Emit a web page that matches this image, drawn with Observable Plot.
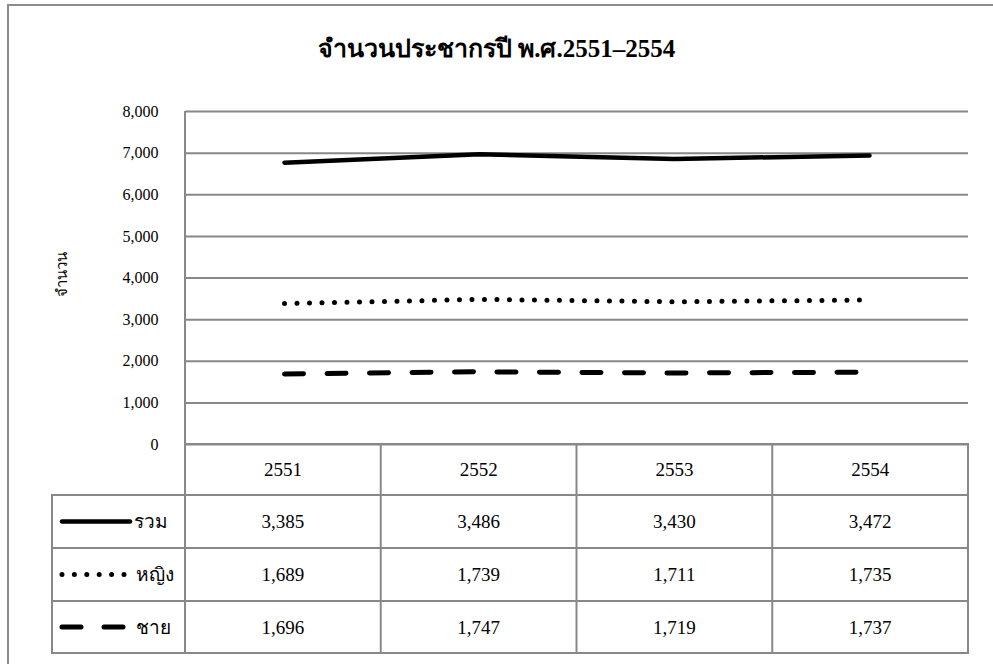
<!DOCTYPE html>
<html>
<head>
<meta charset="utf-8">
<script src="https://cdn.jsdelivr.net/npm/d3@7"></script>
<script src="https://cdn.jsdelivr.net/npm/@observablehq/plot@0.6"></script>
<style>
  body { margin: 0; background: #fff; }
  #root { position: relative; width: 993px; height: 664px; overflow: hidden; background: #fff; font-family: "Liberation Serif", "DejaVu Serif", serif; }
  #frame { position: absolute; left: 7px; top: 4px; width: 1100px; height: 800px; border: 2px solid #8c8c8c; box-sizing: border-box; }
  #title { position: absolute; left: 0; top: 28px; width: 993px; text-align: center; font-size: 25px; font-weight: bold; color: #000; }
  #chart { position: absolute; left: 0; top: 95px; }
  #chart svg text { font-family: "Liberation Serif", serif !important; }
  #chart svg g[aria-label="y-axis tick label"] text { font-size: 16px !important; }
  #table { position: absolute; left: 0; top: 0; }
</style>
</head>
<body>
<div id="root">
  <div id="frame"></div>
  <div id="title">จำนวนประชากรปี พ.ศ.2551–2554</div>
  <div id="chart"></div>
  <div id="table"></div>
</div>
<script>
// ---- data ----
const years = ["2551", "2552", "2553", "2554"];
const seriesNames = ["รวม", "หญิง", "ชาย"];
const totalValues = [3385, 3486, 3430, 3472];
const femaleValues = [1689, 1739, 1711, 1735];
const maleValues = [1696, 1747, 1719, 1737];
const yTicks = [0, 1000, 2000, 3000, 4000, 5000, 6000, 7000, 8000];
const yLabel = "จำนวน";

const valuesBySeries = {"รวม": totalValues, "หญิง": femaleValues, "ชาย": maleValues};
const styleBySeries = {
  "รวม": {strokeWidth: 4.5, strokeDasharray: null},
  "หญิง": {strokeWidth: 5, strokeDasharray: "0 12.5"},
  "ชาย": {strokeWidth: 5, strokeDasharray: "19 23.5"}
};

// wide table, stacked like the original (ชาย bottom, หญิง, then รวม)
const wide = years.map((y, i) => ({year: y, "รวม": totalValues[i], "หญิง": femaleValues[i], "ชาย": maleValues[i]}));
const stackOrder = ["ชาย", "หญิง", "รวม"];
const stacked = d3.stack().keys(stackOrder)(wide);
const lineData = {};
stacked.forEach(s => {
  lineData[s.key] = s.map((p, i) => ({year: years[i], top: p[1], series: s.key}));
});

const W = 993, H = 364, mL = 185, mR = 25, mT = 16, mB = 15;
const gridColor = "#888";

const leftLine = (index, scales, values, dims) => {
  const g = d3.create("svg:line")
    .attr("x1", dims.marginLeft).attr("x2", dims.marginLeft)
    .attr("y1", dims.marginTop).attr("y2", dims.height - dims.marginBottom)
    .attr("stroke", gridColor).attr("stroke-width", 2);
  return g.node();
};

const chart = Plot.plot({
  width: W, height: H,
  marginLeft: mL, marginRight: mR, marginTop: mT, marginBottom: mB,
  style: {fontFamily: '"Liberation Serif", serif', fontSize: "16px", color: "#000", background: "transparent"},
  x: {type: "point", domain: years, padding: 0.5, axis: null},
  y: {domain: [0, 8000], ticks: yTicks},
  marks: [
    Plot.gridY(yTicks, {stroke: gridColor, strokeOpacity: 1, strokeWidth: 2}),
    leftLine,
    Plot.axisY(yTicks, {tickSize: 0, tickPadding: 27, tickFormat: d3.format(","), fontSize: 16, label: null}),
    Plot.text([yLabel], {frameAnchor: "left", textAnchor: "middle", dx: -123, dy: -4, rotate: -90, fontSize: 15, fill: "#000"}),
    ...stackOrder.map(k => Plot.line(lineData[k], {
      x: "year", y: "top", stroke: "#000",
      strokeWidth: styleBySeries[k].strokeWidth,
      strokeDasharray: styleBySeries[k].strokeDasharray,
      strokeLinecap: "round", strokeLinejoin: "round"
    }))
  ]
});
document.getElementById("chart").appendChild(chart);

// ---- data table under the chart ----
const xs = chart.scale("x");
const x0 = xs.range[0], x1 = xs.range[1];
const step = (x1 - x0) / years.length;
const colEdges = [52, ...years.map((_, i) => x0 + i * step), x1];
const rowEdges = [444, 495, 548, 601, 653];

const tsvg = d3.create("svg").attr("width", 993).attr("height", 664)
  .style("font-family", '"Liberation Serif", serif').style("font-size", "19px");
const ln = (a, b, c, d) => tsvg.append("line").attr("x1", a).attr("y1", b).attr("x2", c).attr("y2", d)
  .attr("stroke", gridColor).attr("stroke-width", 2).attr("stroke-linecap", "square");
ln(colEdges[1], rowEdges[0], colEdges[colEdges.length - 1], rowEdges[0]);
for (let r = 1; r < rowEdges.length; r++) ln(colEdges[0], rowEdges[r], colEdges[colEdges.length - 1], rowEdges[r]);
ln(colEdges[0], rowEdges[1], colEdges[0], rowEdges[rowEdges.length - 1]);
for (let c = 1; c < colEdges.length; c++) ln(colEdges[c], rowEdges[0], colEdges[c], rowEdges[rowEdges.length - 1]);

const fmt = d3.format(",");
years.forEach((y, i) => {
  tsvg.append("text").attr("x", (colEdges[i + 1] + colEdges[i + 2]) / 2).attr("y", (rowEdges[0] + rowEdges[1]) / 2)
    .attr("text-anchor", "middle").attr("dominant-baseline", "central").attr("fill", "#000").text(y);
});
seriesNames.forEach((k, r) => {
  const cy = (rowEdges[r + 1] + rowEdges[r + 2]) / 2;
  const st = styleBySeries[k];
  const sym = tsvg.append("line").attr("x1", 62).attr("x2", k === "รวม" ? 130 : 126)
    .attr("y1", cy).attr("y2", cy).attr("stroke", "#000")
    .attr("stroke-width", st.strokeWidth).attr("stroke-linecap", "round");
  if (k === "หญิง") sym.attr("stroke-dasharray", "0 12.4");
  if (k === "ชาย") sym.attr("stroke-dasharray", "19 23");
  tsvg.append("text").attr("x", k === "รวม" ? 134 : 136).attr("y", cy)
    .attr("dominant-baseline", "central").attr("fill", "#000").text(k);
  valuesBySeries[k].forEach((v, i) => {
    tsvg.append("text").attr("x", (colEdges[i + 1] + colEdges[i + 2]) / 2).attr("y", cy)
      .attr("text-anchor", "middle").attr("dominant-baseline", "central").attr("fill", "#000").text(fmt(v));
  });
});
document.getElementById("table").appendChild(tsvg.node());
</script>
</body>
</html>
